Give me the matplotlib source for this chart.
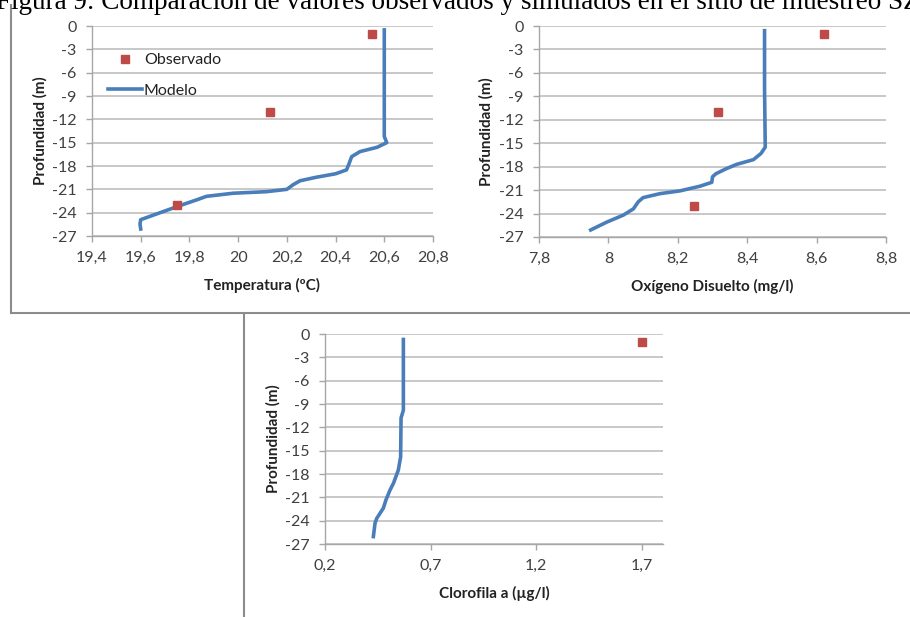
import matplotlib.pyplot as plt
from matplotlib.lines import Line2D

# datos
prof_obs_temp = [-1, -11, -23]
temp_obs = [20.55, 20.13, 19.75]
prof_mod_temp = [-0.5, -8, -14.2, -15.0, -15.6, -16.15, -16.8, -17.65, -18.5, -19.0, -19.45,
                 -19.9, -20.4, -21.0, -21.3, -21.5, -21.9, -22.35, -23.1, -24.0, -24.9, -25.45, -26.1]
temp_mod = [20.60, 20.60, 20.60, 20.61, 20.57, 20.50, 20.466, 20.456, 20.445, 20.40, 20.32,
            20.254, 20.226, 20.20, 20.117, 19.98, 19.87, 19.83, 19.76, 19.68, 19.60, 19.597, 19.60]

prof_obs_ox = [-1, -11, -23]
ox_obs = [8.62, 8.317, 8.248]
prof_mod_ox = [-0.6, -8, -15.5, -16.3, -17.1, -17.7, -18.25, -18.9, -19.3, -20.0, -20.5, -21.1,
               -21.45, -21.96, -22.5, -23.4, -24.2, -25.1, -26.1]
ox_mod = [8.45, 8.45, 8.452, 8.44, 8.418, 8.37, 8.34, 8.31, 8.30, 8.298, 8.264, 8.206,
          8.149, 8.10, 8.086, 8.072, 8.043, 7.995, 7.949]

prof_obs_clo = [-1]
clo_obs = [1.7]
prof_mod_clo = [-0.7, -5, -9.8, -10.8, -15.8, -17.5, -19.2, -20.05, -21.3, -22.4, -23.7, -24.3, -26.05]
clo_mod = [0.571, 0.571, 0.571, 0.56, 0.558, 0.547, 0.524, 0.508, 0.489, 0.476, 0.445, 0.437, 0.429]

yticks = list(range(0, -28, -3))

azul = "#4A7EBB"
rojo = "#BE4B48"
gris = "#BFBFBF"
fuente = "Lato"

W, H = 910, 617
fig = plt.figure(figsize=(W / 100, H / 100), dpi=100)


def eje(x0, x1, ytop, ybot):
    return fig.add_axes([x0 / W, (H - ybot) / H, (x1 - x0) / W, (ybot - ytop) / H])


def formato(ax, xmin, xmax, xticks, xlabels, xlabel):
    ax.set_xlim(xmin, xmax)
    ax.set_ylim(-27, 0)
    ax.set_xticks(xticks)
    ax.set_xticklabels(xlabels)
    ax.set_yticks(yticks)
    ax.set_yticklabels([str(t) for t in yticks])
    ax.grid(axis="y", color=gris, linewidth=1.2)
    ax.set_axisbelow(True)
    for s in ["top", "right"]:
        ax.spines[s].set_visible(False)
    for s in ["left", "bottom"]:
        ax.spines[s].set_color("#A6A6A6")
        ax.spines[s].set_linewidth(1.0)
    ax.tick_params(colors="#A6A6A6", labelcolor="#404040", length=4, width=1,
                   labelsize=11.5, pad=7)
    for lab in ax.get_xticklabels() + ax.get_yticklabels():
        lab.set_family(fuente)
    ax.set_xlabel(xlabel, fontsize=11, fontweight="bold", family=fuente, color="#222222")
    ax.set_ylabel("Profundidad (m)", fontsize=11, fontweight="bold", family=fuente, color="#222222")
    ax.xaxis.set_label_coords(0.5, -0.2)
    ax.yaxis.set_label_coords(-0.13, 0.5)


ax1 = eje(92, 433, 26, 236)
ax1.plot(temp_mod, prof_mod_temp, color=azul, linewidth=2.6, label="Modelo")
ax1.plot(temp_obs, prof_obs_temp, "s", color=rojo, markersize=6, label="Observado", linestyle="none")
formato(ax1, 19.4, 20.8, [19.4, 19.6, 19.8, 20.0, 20.2, 20.4, 20.6, 20.8],
        ["19,4", "19,6", "19,8", "20", "20,2", "20,4", "20,6", "20,8"], "Temperatura (ºC)")
h, l = ax1.get_legend_handles_labels()
leg = ax1.legend(h[::-1], l[::-1], loc="upper left", bbox_to_anchor=(0.047, 0.87), frameon=False,
                 borderpad=0, borderaxespad=0, handlelength=2.1, handletextpad=0.15,
                 labelspacing=1.0, prop={"family": fuente, "size": 11.5})
for t in leg.get_texts():
    t.set_color("#222222")

ax2 = eje(539, 886, 26, 237)
ax2.plot(ox_mod, prof_mod_ox, color=azul, linewidth=2.6)
ax2.plot(ox_obs, prof_obs_ox, "s", color=rojo, markersize=6)
formato(ax2, 7.8, 8.8, [7.8, 8.0, 8.2, 8.4, 8.6, 8.8],
        ["7,8", "8", "8,2", "8,4", "8,6", "8,8"], "Oxígeno Disuelto (mg/l)")

ax3 = eje(325, 663, 334, 544)
ax3.plot(clo_mod, prof_mod_clo, color=azul, linewidth=2.6)
ax3.plot(clo_obs, prof_obs_clo, "s", color=rojo, markersize=6)
formato(ax3, 0.2, 1.8, [0.2, 0.7, 1.2, 1.7],
        ["0,2", "0,7", "1,2", "1,7"], "Clorofila a (µg/l)")

# lineas del marco del documento
marco = "#8C8C8C"
fig.add_artist(Line2D([11 / W, 11 / W], [1 - 5 / H, 1 - 313 / H], color=marco, linewidth=1.5))
fig.add_artist(Line2D([11 / W, 1], [1 - 313 / H, 1 - 313 / H], color=marco, linewidth=1.5))
fig.add_artist(Line2D([244 / W, 244 / W], [1 - 315 / H, 0], color=marco, linewidth=1.5))

# pie de figura cortado arriba
fig.text(-0.004, 1 - 9 / H, "Figura 9: Comparación de valores observados y simulados en el sitio de muestreo SZ",
         family="Liberation Serif", fontsize=19.5, va="baseline", ha="left", color="black")

fig.savefig("out.png", dpi=100)
